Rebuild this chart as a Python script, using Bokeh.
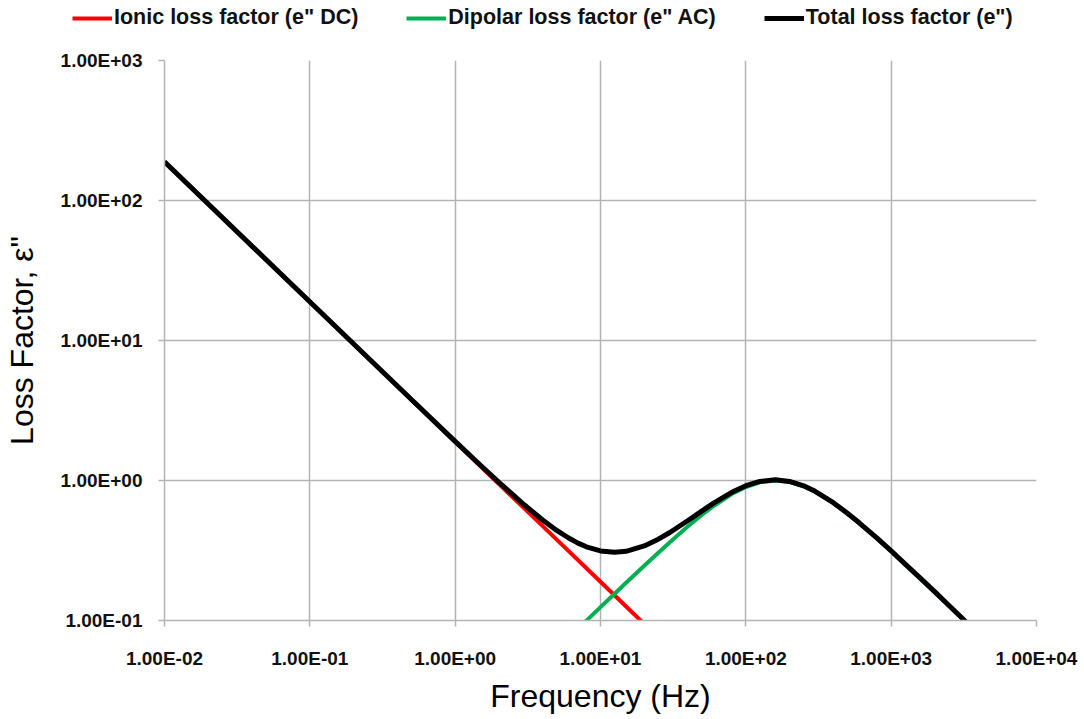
from bokeh.plotting import figure
from bokeh.models import (Range1d, FixedTicker, CustomJSTickFormatter, Legend,
                          LegendItem)
from bokeh.embed import file_html
from bokeh.resources import INLINE

# Frequency (Hz) and loss factor readings for each contribution
ionic_freq = [0.01, 0.1, 1.0, 2.0, 5.0, 10.0, 15.0, 20.0]
ionic_loss = [189.0, 18.9, 1.89, 0.945, 0.378, 0.189, 0.126, 0.0945]

dipolar_freq = [7, 8, 10, 12.5, 15, 20, 25, 30, 40, 50, 60, 80, 100, 125, 160,
                200, 250, 300, 400, 500, 600, 800, 1000, 1250, 1600, 2000,
                2500, 3200, 3600]
dipolar_loss = [0.0873, 0.0998, 0.1245, 0.1553, 0.1859, 0.2462, 0.3051, 0.3623,
                0.4706, 0.5694, 0.6575, 0.800, 0.8989, 0.9703, 1.000, 0.9756,
                0.9081, 0.8304, 0.6897, 0.5805, 0.4979, 0.3846, 0.3120, 0.2519,
                0.1980, 0.1590, 0.1275, 0.0998, 0.0887]

total_freq = [0.01, 0.1, 0.5, 1, 1.5, 2, 3, 4, 5, 6, 7, 8, 10, 12.5, 15, 20, 25,
              30, 40, 50, 60, 80, 100, 125, 160, 200, 250, 300, 400, 500, 600,
              800, 1000, 1250, 1600, 2000, 2500, 3200, 3600]
total_loss = [189.0, 18.90, 3.786, 1.903, 1.279, 0.970, 0.668, 0.522, 0.440,
              0.390, 0.357, 0.336, 0.314, 0.307, 0.312, 0.341, 0.381, 0.425,
              0.518, 0.607, 0.689, 0.824, 0.918, 0.985, 1.012, 0.985, 0.916,
              0.837, 0.694, 0.584, 0.501, 0.387, 0.314, 0.253, 0.199, 0.160,
              0.128, 0.100, 0.089]

series_names = ['Ionic loss factor (e" DC)', 'Dipolar loss factor (e" AC)',
                'Total loss factor (e")']
series_colors = ["#ff0000", "#00b050", "#000000"]
series_widths = [4, 4, 5]

x_ticks = [0.01, 0.1, 1, 10, 100, 1000, 10000]
x_labels = ["1.00E-02", "1.00E-01", "1.00E+00", "1.00E+01", "1.00E+02",
            "1.00E+03", "1.00E+04"]
y_ticks = [0.1, 1, 10, 100, 1000]
y_labels = ["1.00E-01", "1.00E+00", "1.00E+01", "1.00E+02", "1.00E+03"]

GRID = "#b3b3b3"
FONT = "Liberation Sans"
LEGEND_H = 36

series = [(ionic_freq, ionic_loss), (dipolar_freq, dipolar_loss),
          (total_freq, total_loss)]

# ---- legend strip across the top ----
# The strip's y range lies below zero, so the (positive) series only feed the legend swatches.
key = figure(width=1084, height=LEGEND_H, x_range=Range1d(0, 1), y_range=Range1d(-2, -1),
             output_backend="svg", toolbar_location=None,
             x_axis_location=None, y_axis_location=None,
             min_border_left=0, min_border_right=0, min_border_top=0, min_border_bottom=0)
key.grid.visible = False
key.outline_line_color = None
key.background_fill_color = "white"
key.border_fill_color = "white"

swatches = [key.line(fx, fy, line_color=c, line_width=w)
            for (fx, fy), c, w in zip(series, series_colors, series_widths)]
legend = Legend(items=[LegendItem(label=n, renderers=[r])
                       for n, r in zip(series_names, swatches)],
                orientation="horizontal", location=(72, 6),
                border_line_color=None, background_fill_alpha=0,
                glyph_width=40, glyph_height=22, label_standoff=2, spacing=48,
                padding=0, margin=0,
                label_text_font=FONT, label_text_font_style="bold",
                label_text_font_size="21.5px", label_text_color="#111111")
key.add_layout(legend, "center")

# ---- main log-log chart ----
p = figure(width=1084, height=719 - LEGEND_H, x_axis_type="log", y_axis_type="log",
           x_range=Range1d(0.01, 10000), y_range=Range1d(0.1, 1000),
           output_backend="svg", toolbar_location=None,
           min_border_left=162, min_border_right=48,
           min_border_top=60 - LEGEND_H, min_border_bottom=99)
p.outline_line_color = None
p.background_fill_color = "white"
p.border_fill_color = "white"

label_js = """
const i = tick_vals.findIndex(t => Math.abs(Math.log10(t) - Math.log10(tick)) < 1e-6);
return i >= 0 ? tick_text[i] : "";
"""
p.xaxis.ticker = FixedTicker(ticks=x_ticks, minor_ticks=[])
p.yaxis.ticker = FixedTicker(ticks=y_ticks, minor_ticks=[])
p.xaxis.formatter = CustomJSTickFormatter(args=dict(tick_vals=x_ticks, tick_text=x_labels), code=label_js)
p.yaxis.formatter = CustomJSTickFormatter(args=dict(tick_vals=y_ticks, tick_text=y_labels), code=label_js)

for ax in (p.xaxis, p.yaxis):
    ax.axis_line_color = GRID
    ax.axis_line_width = 1.5
    ax.major_tick_line_color = GRID
    ax.major_tick_line_width = 1.5
    ax.major_tick_out = 6
    ax.major_tick_in = 0
    ax.minor_tick_line_color = None
    ax.major_label_text_font = FONT
    ax.major_label_text_font_style = "bold"
    ax.major_label_text_font_size = "19px"
    ax.major_label_text_color = "#111111"
    ax.axis_label_text_font = FONT
    ax.axis_label_text_font_style = "normal"
    ax.axis_label_text_font_size = "32px"
    ax.axis_label_text_color = "#000000"

p.xaxis.axis_label = "Frequency (Hz)"
p.yaxis.axis_label = "Loss Factor, ε\""
p.xaxis.major_label_standoff = 21
p.yaxis.major_label_standoff = 16
p.xaxis.axis_label_standoff = 6
p.yaxis.axis_label_standoff = 18

p.xgrid.grid_line_color = GRID
p.ygrid.grid_line_color = GRID
p.xgrid.grid_line_width = 1.5
p.ygrid.grid_line_width = 1.5

for (fx, fy), c, w in zip(series, series_colors, series_widths):
    p.line(fx, fy, line_color=c, line_width=w)

# Two independent roots stacked on the page: legend strip, then the chart
open("out.html", "w").write(file_html([key, p], INLINE))
